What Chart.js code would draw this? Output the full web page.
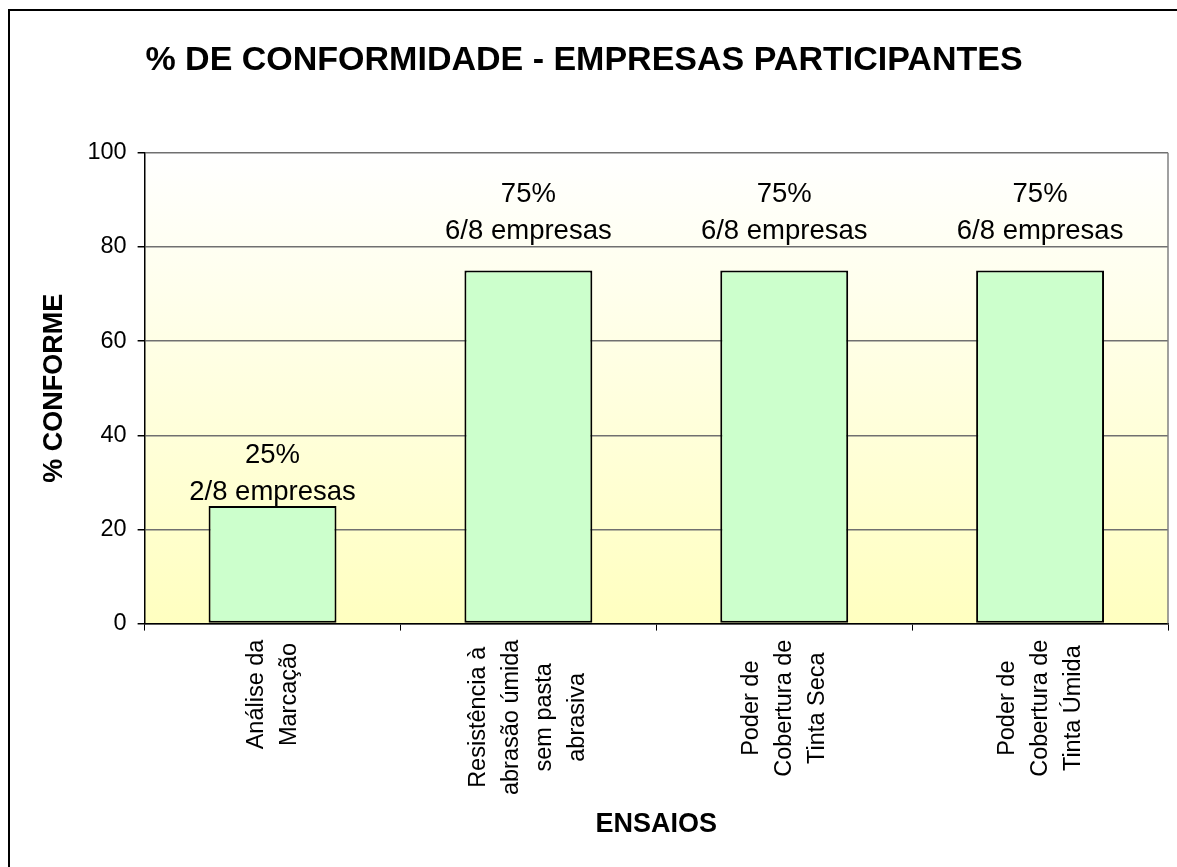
<!DOCTYPE html>
<html lang="pt">
<head>
<meta charset="utf-8">
<title>% de conformidade - empresas participantes</title>
<script src="https://cdn.jsdelivr.net/npm/chart.js@4.4.1/dist/chart.umd.min.js"></script>
<style>
  html, body { margin: 0; padding: 0; background: #fff; overflow: hidden; }
  #wrap { position: relative; width: 1177px; height: 867px; }
</style>
</head>
<body>
<div id="wrap"><canvas id="conformidadeChart"></canvas></div>
<script>
'use strict';

// --- dados ---
const ENSAIOS = [
  ['Análise da', 'Marcação'],
  ['Resistência à', 'abrasão úmida', 'sem pasta', 'abrasiva'],
  ['Poder de', 'Cobertura de', 'Tinta Seca'],
  ['Poder de', 'Cobertura de', 'Tinta Úmida'],
];
const PCT_CONFORME = [25, 75, 75, 75];
const EMPRESAS_CONFORMES = [2, 6, 6, 6];
const TOTAL_EMPRESAS = 8;
const Y_TICKS = [0, 20, 40, 60, 80, 100];

const FONT = 'Arial, "Liberation Sans", sans-serif';
Chart.defaults.font.family = FONT;
Chart.defaults.color = '#000';

// distancia entre rotulo e topo da barra (px)
const LABEL_GAP = [6, 32, 32, 32];

// fundo: moldura + gradiente da area do grafico
const fundoPlugin = {
  id: 'fundo',
  beforeDraw(chart) {
    const { ctx, chartArea: a } = chart;
    ctx.save();
    ctx.fillStyle = '#fff';
    ctx.fillRect(0, 0, chart.width, chart.height);
    ctx.strokeStyle = '#000';
    ctx.lineWidth = 2;
    ctx.beginPath();
    ctx.moveTo(9, chart.height + 5);
    ctx.lineTo(9, 10);
    ctx.lineTo(chart.width + 5, 10);
    ctx.stroke();
    const g = ctx.createLinearGradient(0, a.top, 0, a.bottom);
    g.addColorStop(0, '#ffffff');
    g.addColorStop(1, '#ffffc0');
    ctx.fillStyle = g;
    ctx.fillRect(a.left, a.top, a.right - a.left, a.bottom - a.top);
    ctx.restore();
  },
  afterDraw(chart) {
    const { ctx, chartArea: a } = chart;
    const x = chart.scales.x;
    ctx.save();
    // borda direita da area
    ctx.strokeStyle = '#808080';
    ctx.lineWidth = 1.5;
    ctx.beginPath();
    ctx.moveTo(a.right, a.top);
    ctx.lineTo(a.right, a.bottom);
    ctx.stroke();

    // rotulos das categorias (verticais, linhas centradas)
    ctx.font = '23.5px ' + FONT;
    ctx.fillStyle = '#000';
    ctx.textAlign = 'center';
    ctx.textBaseline = 'middle';
    const lh = 33;
    ENSAIOS.forEach((lines, i) => {
      const px = x.getPixelForTick(i);
      const w = Math.max(...lines.map(l => ctx.measureText(l).width));
      const yc = a.bottom + 16 + w / 2;
      ctx.save();
      ctx.translate(px, yc);
      ctx.rotate(-Math.PI / 2);
      lines.forEach((l, k) => ctx.fillText(l, 0, (k - (lines.length - 1) / 2) * lh));
      ctx.restore();
    });
    ctx.restore();
  },
  afterDatasetsDraw(chart) {
    const { ctx } = chart;
    const meta = chart.getDatasetMeta(0);
    ctx.save();
    ctx.font = '27.5px ' + FONT;
    ctx.fillStyle = '#000';
    ctx.textAlign = 'center';
    ctx.textBaseline = 'alphabetic';
    meta.data.forEach((bar, i) => {
      const base = bar.y - LABEL_GAP[i];
      ctx.fillText(EMPRESAS_CONFORMES[i] + '/' + TOTAL_EMPRESAS + ' empresas', bar.x, base);
      ctx.fillText(PCT_CONFORME[i] + '%', bar.x, base - 37);
    });
    ctx.restore();
  },
};

new Chart(document.getElementById('conformidadeChart').getContext('2d'), {
  type: 'bar',
  data: {
    labels: ENSAIOS.map(l => l.join(' ')),
    datasets: [{
      label: '% conforme',
      data: PCT_CONFORME,
      backgroundColor: '#ccffcc',
      borderColor: '#000',
      borderWidth: 2,
      borderSkipped: false,
      barPercentage: 0.5,
      categoryPercentage: 1,
    }],
  },
  options: {
    responsive: true,
    maintainAspectRatio: false,
    animation: false,
    layout: { padding: { top: 0, right: 9, bottom: 0, left: 0 } },
    plugins: {
      legend: { display: false },
      tooltip: { enabled: false },
      title: {
        display: true,
        text: '% DE CONFORMIDADE - EMPRESAS PARTICIPANTES',
        font: { size: 34, weight: 'bold' },
        color: '#000',
        padding: { top: 40, bottom: 72 },
      },
    },
    scales: {
      x: {
        ticks: { display: false },
        grid: { drawOnChartArea: false, drawTicks: true, tickLength: 7, tickColor: '#000', offset: true },
        border: { color: '#000', width: 1.5 },
        title: {
          display: true,
          text: 'ENSAIOS',
          font: { size: 27, weight: 'bold' },
          color: '#000',
          padding: { top: 178, bottom: 26 },
        },
      },
      y: {
        min: Y_TICKS[0],
        max: Y_TICKS[Y_TICKS.length - 1],
        ticks: { stepSize: Y_TICKS[1] - Y_TICKS[0], padding: 11, font: { size: 23.5 }, color: '#000' },
        grid: { color: '#707070', lineWidth: 1.5, tickLength: 7, tickColor: '#000' },
        border: { color: '#000', width: 1.5 },
        title: {
          display: true,
          text: '% CONFORME',
          font: { size: 27, weight: 'bold' },
          color: '#000',
          padding: { top: 38, bottom: 6 },
        },
      },
    },
  },
  plugins: [fundoPlugin],
});
</script>
</body>
</html>
